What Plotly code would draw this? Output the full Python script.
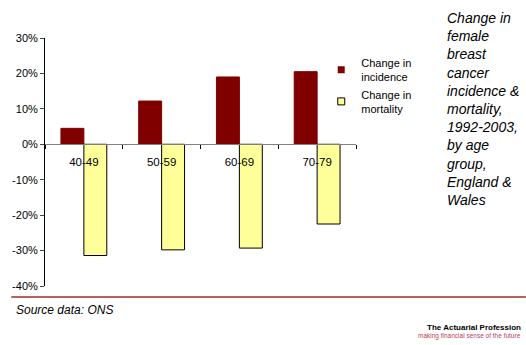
import plotly.graph_objects as go

# ---- data ----
age_groups = ["40-49", "50-59", "60-69", "70-79"]
incidence_change = [4.5, 12.2, 19.0, 20.5]      # % change 1992-2003
mortality_change = [-31.4, -29.8, -29.3, -22.5]  # % change 1992-2003
y_ticks = [30, 20, 10, 0, -10, -20, -30, -40]
y_tick_labels = ["30%", "20%", "10%", "0%", "-10%", "-20%", "-30%", "-40%"]

W, H = 526, 345
L, R, T, B = 43, 170, 38, 59
PW, PH = W - L - R, H - T - B


def px_x(p):
    return (p - L) / PW


def px_y(p):
    return (H - B - p) / PH


fig = go.Figure()
fig.add_trace(go.Bar(x=age_groups, y=incidence_change, name="Change in<br>incidence",
                     marker=dict(color="#800000", line=dict(color="#800000", width=1)),
                     showlegend=False))
fig.add_trace(go.Bar(x=age_groups, y=mortality_change, name="Change in<br>mortality",
                     marker=dict(color="#FFFF99", line=dict(color="#000000", width=1)),
                     showlegend=False))
# legend proxies (small square symbols)
fig.add_trace(go.Scatter(x=[None], y=[None], mode="markers", name="Change in<br>incidence",
                         marker=dict(symbol="square", size=7, color="#800000",
                                     line=dict(color="#800000", width=0))))
fig.add_trace(go.Scatter(x=[None], y=[None], mode="markers", name="Change in<br>mortality",
                         marker=dict(symbol="square", size=7, color="#FFFF99",
                                     line=dict(color="#000000", width=1))))

ymin, ymax = -40, 30
fig.update_layout(
    width=W, height=H,
    margin=dict(l=L, r=R, t=T, b=B, pad=0),
    paper_bgcolor="white", plot_bgcolor="white",
    font=dict(family="Liberation Sans, Arial, sans-serif", size=11, color="black"),
    barmode="group", bargap=0.41, bargroupgap=0,
    xaxis=dict(type="category", range=[-0.5, 3.5], anchor="free",
               position=(0 - ymin) / (ymax - ymin),
               showline=True, linecolor="#808080", linewidth=1,
               ticks="outside", tickson="boundaries", ticklen=4, tickcolor="#000000",
               ticklabelstandoff=7,
               showgrid=False, zeroline=False, tickfont=dict(size=11.5)),
    yaxis=dict(range=[ymin, ymax], tickmode="array", tickvals=y_ticks,
               ticktext=y_tick_labels,
               showline=True, linecolor="black", linewidth=1,
               ticks="outside", ticklen=4, showgrid=False, zeroline=False,
               tickfont=dict(size=11)),
    legend=dict(x=px_x(321), y=px_y(49), xanchor="left", yanchor="top",
                bgcolor="rgba(0,0,0,0)", font=dict(size=11), tracegroupgap=0,
                itemwidth=30),
)

title_lines = ["Change in", "female", "breast", "cancer", "incidence &", "mortality,",
               "1992-2003,", "by age", "group,", "England &", "Wales"]
fig.add_annotation(text="<i>" + "<br>".join(title_lines) + "</i>",
                   xref="paper", yref="paper", x=px_x(446), y=px_y(8),
                   xanchor="left", yanchor="top", align="left", showarrow=False,
                   font=dict(size=14, color="black"))

fig.add_shape(type="line", xref="paper", yref="paper",
              x0=px_x(9), x1=px_x(527), y0=px_y(297), y1=px_y(297),
              line=dict(color="#B86060", width=2))

fig.add_annotation(text="<i>Source data: ONS</i>", xref="paper", yref="paper",
                   x=px_x(12), y=px_y(310), xanchor="left", yanchor="middle",
                   showarrow=False, font=dict(size=12, color="black"))
fig.add_annotation(text="<b>The Actuarial Profession</b>", xref="paper", yref="paper",
                   x=px_x(524), y=px_y(327), xanchor="right", yanchor="middle",
                   showarrow=False, font=dict(size=8, color="black"))
fig.add_annotation(text="making financial sense of the future", xref="paper", yref="paper",
                   x=px_x(524), y=px_y(336), xanchor="right", yanchor="middle",
                   showarrow=False, font=dict(size=6.5, color="#C0405A"))

fig.write_html("out.html")
